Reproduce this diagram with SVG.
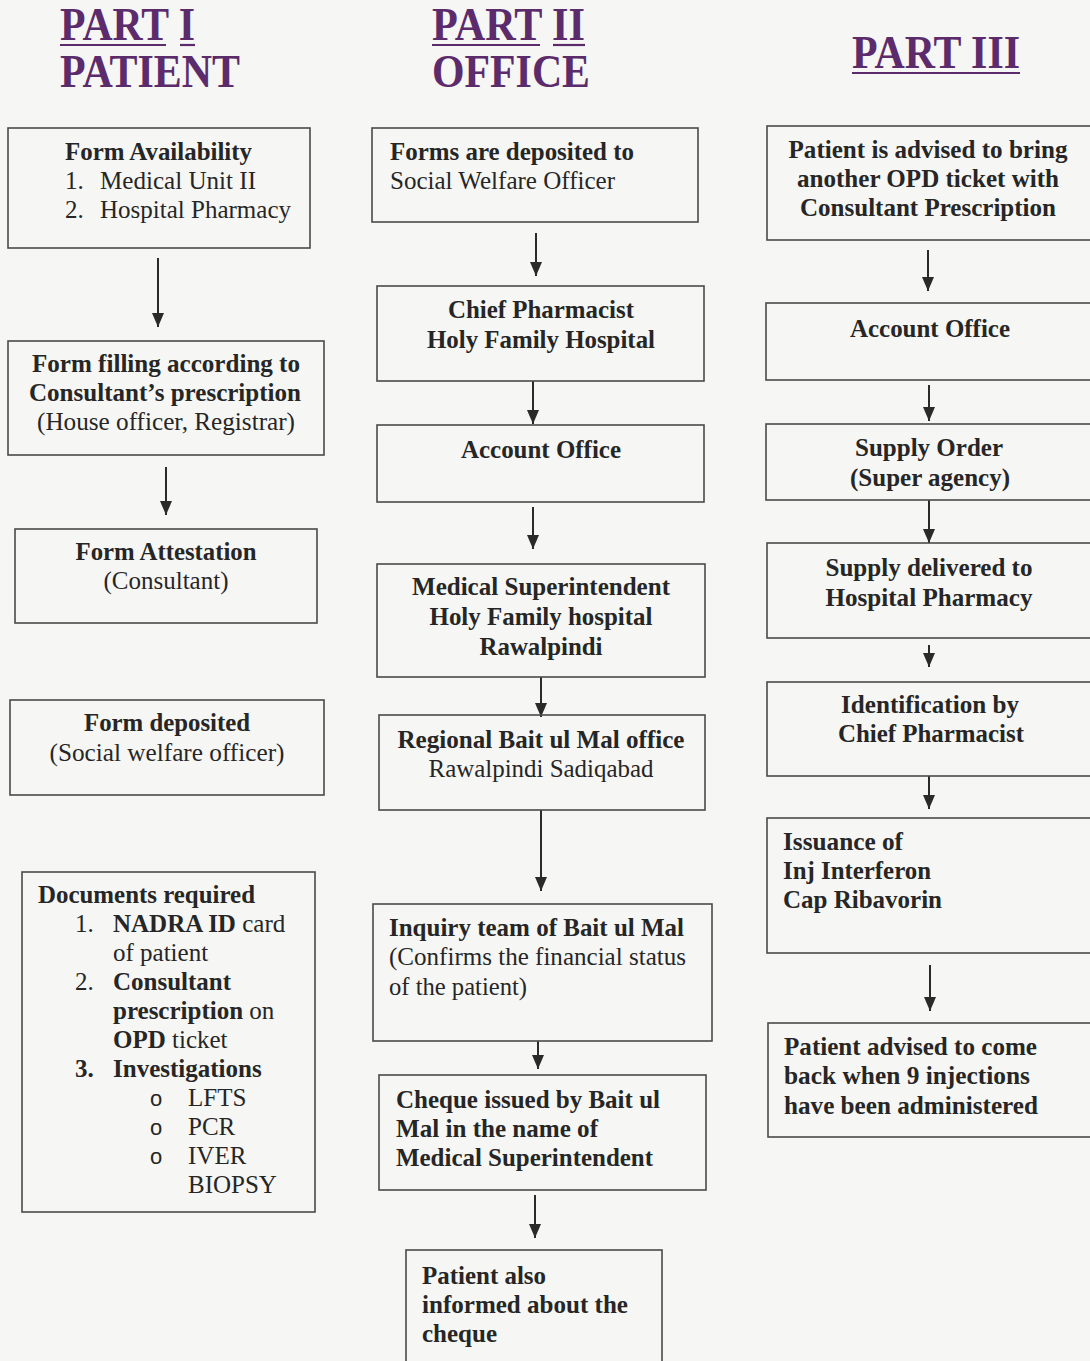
<svg xmlns="http://www.w3.org/2000/svg" width="1090" height="1361" viewBox="0 0 1090 1361">
<style>
.bg{fill:#f6f6f4}
.box{fill:none;stroke:#4a4a4a;stroke-width:1.6}
.h{font-family:"Liberation Serif","Times New Roman",serif;font-weight:bold;font-size:46px;fill:#5b2b6b}
.ul{stroke:#5b2b6b;stroke-width:2.2}
.t{font-family:"Liberation Serif","Times New Roman",serif;font-size:25px;fill:#262626}
.b{font-weight:bold}
.c{text-anchor:middle}
.bul{font-family:"Liberation Sans",Arial,sans-serif;font-size:22px;fill:#262626}
.conn line{stroke:#2a2a2a;stroke-width:2;marker-end:url(#ah)}
</style>
<defs>
<marker id="ah" viewBox="0 -6 14 12" refX="14" refY="0" markerWidth="14" markerHeight="12" markerUnits="userSpaceOnUse" orient="auto">
<path d="M0,-6 L14,0 L0,6 z" fill="#2a2a2a"/>
</marker>
</defs>
<rect class="bg" x="0" y="0" width="1090" height="1361"/>

<g id="headings">
<text class="h" x="60" y="40" textLength="135" lengthAdjust="spacingAndGlyphs">PART I</text>
<line class="ul" x1="60" y1="45" x2="166" y2="45"/>
<line class="ul" x1="180" y1="45" x2="195" y2="45"/>
<text class="h" x="60" y="87" textLength="180" lengthAdjust="spacingAndGlyphs">PATIENT</text>
<text class="h" x="432" y="40" textLength="153" lengthAdjust="spacingAndGlyphs">PART II</text>
<line class="ul" x1="432" y1="45" x2="540" y2="45"/>
<line class="ul" x1="553" y1="45" x2="585" y2="45"/>
<text class="h" x="432" y="87" textLength="158" lengthAdjust="spacingAndGlyphs">OFFICE</text>
<text class="h" x="852" y="68" textLength="168" lengthAdjust="spacingAndGlyphs">PART III</text>
<line class="ul" x1="852" y1="73" x2="1020" y2="73"/>
</g>

<g id="connectors" class="conn">
<line x1="158" y1="258" x2="158" y2="327"/>
<line x1="166" y1="467" x2="166" y2="515"/>
<line x1="536" y1="233" x2="536" y2="276"/>
<line x1="533" y1="381" x2="533" y2="424"/>
<line x1="533" y1="507" x2="533" y2="549"/>
<line x1="541" y1="677" x2="541" y2="717"/>
<line x1="541" y1="810" x2="541" y2="891"/>
<line x1="538" y1="1041" x2="538" y2="1069"/>
<line x1="535" y1="1195" x2="535" y2="1238"/>
<line x1="928" y1="250" x2="928" y2="291"/>
<line x1="929" y1="385" x2="929" y2="421"/>
<line x1="929" y1="500" x2="929" y2="543"/>
<line x1="929" y1="645" x2="929" y2="667"/>
<line x1="929" y1="776" x2="929" y2="809"/>
<line x1="930" y1="965" x2="930" y2="1011"/>
</g>

<g id="p1-form-availability">
<rect class="box" x="8" y="128" width="302" height="120"/>
<text class="t b" x="65" y="160" textLength="187" lengthAdjust="spacingAndGlyphs">Form Availability</text>
<text class="t" x="65" y="189">1.</text>
<text class="t" x="100" y="189" textLength="156" lengthAdjust="spacingAndGlyphs">Medical Unit II</text>
<text class="t" x="65" y="218">2.</text>
<text class="t" x="100" y="218" textLength="191" lengthAdjust="spacingAndGlyphs">Hospital Pharmacy</text>
</g>

<g id="p1-form-filling">
<rect class="box" x="8" y="341" width="316" height="114"/>
<text class="t b c" x="166" y="372" textLength="268" lengthAdjust="spacingAndGlyphs">Form filling according to</text>
<text class="t b c" x="165" y="401" textLength="272" lengthAdjust="spacingAndGlyphs">Consultant’s prescription</text>
<text class="t c" x="166" y="430" textLength="258" lengthAdjust="spacingAndGlyphs">(House officer, Registrar)</text>
</g>

<g id="p1-form-attestation">
<rect class="box" x="15" y="529" width="302" height="94"/>
<text class="t b c" x="166" y="560" textLength="181" lengthAdjust="spacingAndGlyphs">Form Attestation</text>
<text class="t c" x="166" y="589" textLength="125" lengthAdjust="spacingAndGlyphs">(Consultant)</text>
</g>

<g id="p1-form-deposited">
<rect class="box" x="10" y="700" width="314" height="95"/>
<text class="t b c" x="167" y="731" textLength="166" lengthAdjust="spacingAndGlyphs">Form deposited</text>
<text class="t c" x="167" y="761" textLength="235" lengthAdjust="spacingAndGlyphs">(Social welfare officer)</text>
</g>

<g id="p1-documents">
<rect class="box" x="22" y="872" width="293" height="340"/>
<text class="t b" x="38" y="903" textLength="217" lengthAdjust="spacingAndGlyphs">Documents required</text>
<text class="t" x="75" y="932">1.</text>
<text class="t" x="113" y="932"><tspan class="b">NADRA ID</tspan> card</text>
<text class="t" x="113" y="961">of patient</text>
<text class="t" x="75" y="990">2.</text>
<text class="t b" x="113" y="990">Consultant</text>
<text class="t" x="113" y="1019"><tspan class="b">prescription</tspan> on</text>
<text class="t" x="113" y="1048"><tspan class="b">OPD</tspan> ticket</text>
<text class="t b" x="75" y="1077">3.</text>
<text class="t b" x="113" y="1077">Investigations</text>
<text class="bul" x="150" y="1106">o</text>
<text class="t" x="188" y="1106">LFTS</text>
<text class="bul" x="150" y="1135">o</text>
<text class="t" x="188" y="1135">PCR</text>
<text class="bul" x="150" y="1164">o</text>
<text class="t" x="188" y="1164">IVER</text>
<text class="t" x="188" y="1193">BIOPSY</text>
</g>

<g id="p2-forms-deposited">
<rect class="box" x="372" y="128" width="326" height="94"/>
<text class="t b" x="390" y="160" textLength="244" lengthAdjust="spacingAndGlyphs">Forms are deposited to</text>
<text class="t" x="390" y="189" textLength="225" lengthAdjust="spacingAndGlyphs">Social Welfare Officer</text>
</g>

<g id="p2-chief-pharmacist">
<rect class="box" x="377" y="286" width="327" height="95"/>
<text class="t b c" x="541" y="318" textLength="186" lengthAdjust="spacingAndGlyphs">Chief Pharmacist</text>
<text class="t b c" x="541" y="348" textLength="228" lengthAdjust="spacingAndGlyphs">Holy Family Hospital</text>
</g>

<g id="p2-account-office">
<rect class="box" x="377" y="425" width="327" height="77"/>
<text class="t b c" x="541" y="458" textLength="160" lengthAdjust="spacingAndGlyphs">Account Office</text>
</g>

<g id="p2-medical-superintendent">
<rect class="box" x="377" y="564" width="328" height="113"/>
<text class="t b c" x="541" y="595" textLength="258" lengthAdjust="spacingAndGlyphs">Medical Superintendent</text>
<text class="t b c" x="541" y="625" textLength="223" lengthAdjust="spacingAndGlyphs">Holy Family hospital</text>
<text class="t b c" x="541" y="655" textLength="123" lengthAdjust="spacingAndGlyphs">Rawalpindi</text>
</g>

<g id="p2-regional-bait-ul-mal">
<rect class="box" x="379" y="715" width="326" height="95"/>
<text class="t b c" x="541" y="748" textLength="287" lengthAdjust="spacingAndGlyphs">Regional Bait ul Mal office</text>
<text class="t c" x="541" y="777" textLength="225" lengthAdjust="spacingAndGlyphs">Rawalpindi Sadiqabad</text>
</g>

<g id="p2-inquiry-team">
<rect class="box" x="373" y="904" width="339" height="137"/>
<text class="t b" x="389" y="936" textLength="295" lengthAdjust="spacingAndGlyphs">Inquiry team of Bait ul Mal</text>
<text class="t" x="389" y="965" textLength="297" lengthAdjust="spacingAndGlyphs">(Confirms the financial status</text>
<text class="t" x="389" y="995" textLength="138" lengthAdjust="spacingAndGlyphs">of the patient)</text>
</g>

<g id="p2-cheque-issued">
<rect class="box" x="379" y="1075" width="327" height="115"/>
<text class="t b" x="396" y="1108" textLength="264" lengthAdjust="spacingAndGlyphs">Cheque issued by Bait ul</text>
<text class="t b" x="396" y="1137" textLength="202" lengthAdjust="spacingAndGlyphs">Mal in the name of</text>
<text class="t b" x="396" y="1166" textLength="257" lengthAdjust="spacingAndGlyphs">Medical Superintendent</text>
</g>

<g id="p2-patient-informed">
<rect class="box" x="406" y="1250" width="256" height="130"/>
<text class="t b" x="422" y="1284" textLength="124" lengthAdjust="spacingAndGlyphs">Patient also</text>
<text class="t b" x="422" y="1313" textLength="206" lengthAdjust="spacingAndGlyphs">informed about the</text>
<text class="t b" x="422" y="1342" textLength="75" lengthAdjust="spacingAndGlyphs">cheque</text>
</g>

<g id="p3-patient-advised-bring">
<rect class="box" x="767" y="126" width="340" height="114"/>
<text class="t b c" x="928" y="158" textLength="279" lengthAdjust="spacingAndGlyphs">Patient is advised to bring</text>
<text class="t b c" x="928" y="187" textLength="262" lengthAdjust="spacingAndGlyphs">another OPD ticket with</text>
<text class="t b c" x="928" y="216" textLength="256" lengthAdjust="spacingAndGlyphs">Consultant Prescription</text>
</g>

<g id="p3-account-office">
<rect class="box" x="766" y="303" width="340" height="77"/>
<text class="t b c" x="930" y="337" textLength="160" lengthAdjust="spacingAndGlyphs">Account Office</text>
</g>

<g id="p3-supply-order">
<rect class="box" x="766" y="424" width="340" height="76"/>
<text class="t b c" x="929" y="456" textLength="148" lengthAdjust="spacingAndGlyphs">Supply Order</text>
<text class="t b c" x="930" y="486" textLength="160" lengthAdjust="spacingAndGlyphs">(Super agency)</text>
</g>

<g id="p3-supply-delivered">
<rect class="box" x="767" y="543" width="340" height="95"/>
<text class="t b c" x="929" y="576" textLength="207" lengthAdjust="spacingAndGlyphs">Supply delivered to</text>
<text class="t b c" x="929" y="606" textLength="207" lengthAdjust="spacingAndGlyphs">Hospital Pharmacy</text>
</g>

<g id="p3-identification">
<rect class="box" x="767" y="682" width="340" height="94"/>
<text class="t b c" x="930" y="713" textLength="178" lengthAdjust="spacingAndGlyphs">Identification by</text>
<text class="t b c" x="931" y="742" textLength="186" lengthAdjust="spacingAndGlyphs">Chief Pharmacist</text>
</g>

<g id="p3-issuance">
<rect class="box" x="767" y="818" width="340" height="135"/>
<text class="t b" x="783" y="850" textLength="120" lengthAdjust="spacingAndGlyphs">Issuance of</text>
<text class="t b" x="783" y="879" textLength="148" lengthAdjust="spacingAndGlyphs">Inj Interferon</text>
<text class="t b" x="783" y="908" textLength="159" lengthAdjust="spacingAndGlyphs">Cap Ribavorin</text>
</g>

<g id="p3-patient-come-back">
<rect class="box" x="768" y="1023" width="340" height="114"/>
<text class="t b" x="784" y="1055" textLength="253" lengthAdjust="spacingAndGlyphs">Patient advised to come</text>
<text class="t b" x="784" y="1084" textLength="246" lengthAdjust="spacingAndGlyphs">back when 9 injections</text>
<text class="t b" x="784" y="1114" textLength="254" lengthAdjust="spacingAndGlyphs">have been administered</text>
</g>
</svg>
